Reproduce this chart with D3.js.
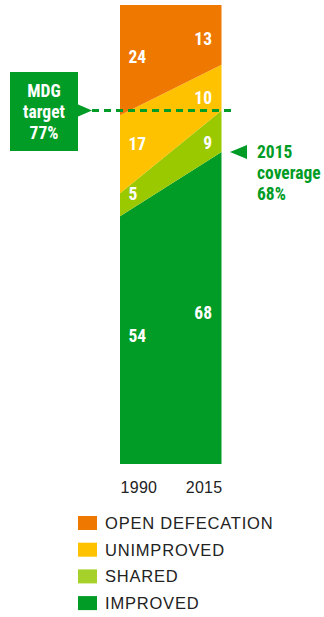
<!DOCTYPE html>
<html>
<head>
<meta charset="utf-8">
<script src="https://cdn.jsdelivr.net/npm/d3@7"></script>
<style>
  html, body { margin: 0; padding: 0; background: #fff; }
  svg { display: block; }
  .cond { font-family: "Liberation Sans Narrow", "Arial Narrow", "Roboto Condensed", sans-serif; }
</style>
</head>
<body>
<div id="chart"></div>
<script>
// Sanitation coverage, 1990 vs 2015 (percent of population)
const years = ["1990", "2015"];
const improved = [54, 68];
const shared = [5, 9];
const unimproved = [17, 10];
const openDefecation = [24, 13];
const mdgTarget = 77;
const coverageLabel = ["2015", "coverage", "68%"];
const targetLabel = ["MDG", "target", "77%"];
const categories = ["OPEN DEFECATION", "UNIMPROVED", "SHARED", "IMPROVED"];

const W = 324, H = 617;
const colors = {
  improved: "#009c25",
  shared: "#9bc900",
  unimproved: "#ffc200",
  openDefecation: "#ef7800"
};
const legendColors = ["#ef7800", "#ffc200", "#a6d12a", "#009c25"];
const keys = ["improved", "shared", "unimproved", "openDefecation"];
const series = { improved, shared, unimproved, openDefecation };

const rows = years.map((yr, i) => {
  const r = { year: yr };
  keys.forEach(k => r[k] = series[k][i]);
  return r;
});

const svg = d3.select("#chart").append("svg")
  .attr("width", W).attr("height", H);

const x = d3.scalePoint().domain(years).range([120, 221.5]);
const y = d3.scaleLinear().domain([0, 100]).range([464, 5]);

const stack = d3.stack().keys(keys)(rows);

const area = d3.area()
  .x(d => x(d.data.year))
  .y0(d => y(d[0]))
  .y1(d => y(d[1]));

svg.append("g").selectAll("path")
  .data(stack)
  .join("path")
  .attr("d", area)
  .attr("fill", d => colors[d.key]);

// Value labels, centred vertically inside each band at the label's x position
const labelT = [0.15, 0.85];
const lerp = (a, b, t) => a + (b - a) * t;
const labels = svg.append("g").attr("class", "cond")
  .attr("fill", "#fff").attr("font-weight", "bold").attr("font-size", 17.5);
stack.forEach(layer => {
  years.forEach((yr, i) => {
    const t = labelT[i];
    const lo = lerp(layer[0][0], layer[1][0], t);
    const hi = lerp(layer[0][1], layer[1][1], t);
    labels.append("text")
      .attr("x", i === 0 ? 128.5 : 212)
      .attr("y", y((lo + hi) / 2))
      .attr("dy", "0.36em")
      .attr("text-anchor", i === 0 ? "start" : "end")
      .text(layer[i].data[layer.key]);
  });
});

// Year axis
const axis = svg.append("g")
  .attr("class", "cond")
  .attr("transform", `translate(0,${y(0)})`)
  .call(d3.axisBottom(x).tickSize(0));
axis.select(".domain").remove();
axis.selectAll("text")
  .attr("font-family", "\"Liberation Sans Narrow\", \"Arial Narrow\", sans-serif")
  .attr("font-size", 16)
  .attr("letter-spacing", 0.3)
  .attr("fill", "#222")
  .attr("y", 28.5)
  .attr("dy", 0)
  .attr("text-anchor", (d, i) => i === 0 ? "start" : "end")
  .attr("x", (d, i) => i === 0 ? 0 : 0.5);

const green = "#009c25";

// MDG target line and call-out box
const yT = y(mdgTarget);
svg.append("line")
  .attr("x1", 92).attr("x2", 232)
  .attr("y1", yT).attr("y2", yT)
  .attr("stroke", green).attr("stroke-width", 3)
  .attr("stroke-dasharray", "7,5");

svg.append("rect")
  .attr("x", 10).attr("y", 72).attr("width", 68).attr("height", 79)
  .attr("fill", green);
svg.append("path")
  .attr("d", `M77,${yT - 6.5} L92,${yT} L77,${yT + 6.5} Z`)
  .attr("fill", green);
svg.append("text")
  .attr("class", "cond")
  .attr("x", 44).attr("y", 97)
  .attr("text-anchor", "middle")
  .attr("fill", "#fff").attr("font-weight", "bold").attr("font-size", 17.5)
  .selectAll("tspan").data(targetLabel).join("tspan")
  .attr("x", 44).attr("dy", (d, i) => i === 0 ? 0 : 21)
  .text(d => d);

// 2015 coverage marker
const yC = y(improved[1]);
svg.append("path")
  .attr("d", `M230,${yC} L247,${yC - 7} L247,${yC + 7} Z`)
  .attr("fill", green);
svg.append("text")
  .attr("class", "cond")
  .attr("x", 257).attr("y", 158)
  .attr("fill", green).attr("font-weight", "bold").attr("font-size", 17.5)
  .selectAll("tspan").data(coverageLabel).join("tspan")
  .attr("x", 257).attr("dy", (d, i) => i === 0 ? 0 : 21)
  .text(d => d);

// Legend
const legend = svg.append("g").attr("transform", "translate(78,516)");
const item = legend.selectAll("g").data(categories).join("g")
  .attr("transform", (d, i) => `translate(0,${i * 26.7})`);
item.append("rect")
  .attr("width", 19).attr("height", 14)
  .attr("fill", (d, i) => legendColors[i]);
item.append("text")
  .attr("x", 27).attr("y", 7).attr("dy", "0.36em")
  .attr("font-family", "\"Liberation Sans\", Arial, sans-serif")
  .attr("font-size", 16.5).attr("letter-spacing", 0.8)
  .attr("fill", "#222")
  .text(d => d);
</script>
</body>
</html>
